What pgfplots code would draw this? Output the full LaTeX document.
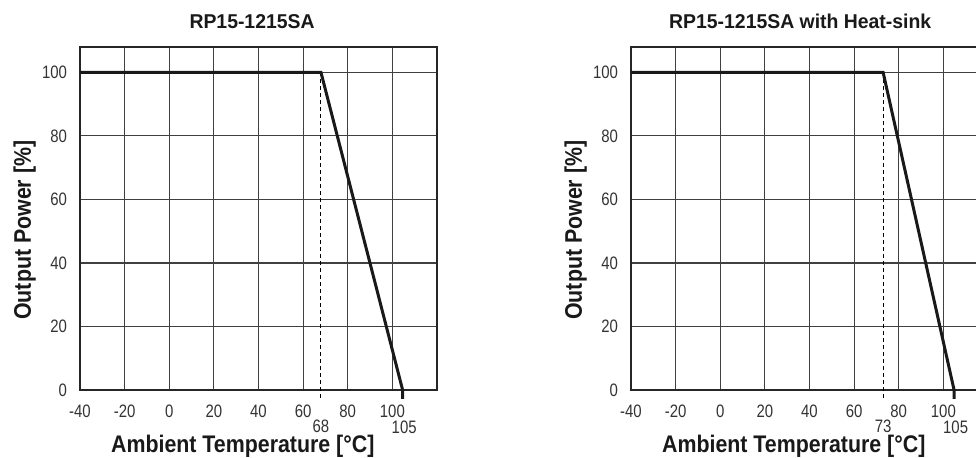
\documentclass[border=0pt]{standalone}
\usepackage{pgfplots}
\pgfplotsset{compat=1.18}
\usepackage{fontspec}
\setmainfont{Liberation Sans}
\newfontfamily\tickfont{Liberation Sans}[FakeStretch=0.83]
\newfontfamily\labfont{Liberation Sans}[FakeStretch=0.89]
\newfontfamily\titfont{Liberation Sans}[FakeStretch=0.97]

\tikzset{
  curve/.style={black!90, line width=1.5pt, line join=miter},
  dropline/.style={black, line width=0.5pt, dash pattern=on 2pt off 1.5pt},
  note/.style={font=\tickfont\fontsize{9}{10}\selectfont, text=black!80, anchor=base},
}
\pgfplotsset{
  every axis title shift=0pt,
  derate/.style={
    scale only axis, width=178.5pt, height=171.5pt,
    xmin=-40, xmax=120, ymin=0, ymax=108,
    xtick={-40,-20,0,20,40,60,80,100},
    xticklabels={-40,-20,0,20,40,60,80,100},
    ytick={0,20,40,60,80,100},
    yticklabels={0,20,40,60,80,100},
    grid=major, grid style={black!75, line width=0.55pt},
    major tick length=0pt,
    axis line style={black!85, line width=0.6pt},
    tick label style={font=\tickfont\fontsize{9}{10}\selectfont, text=black!80},
    xticklabel style={anchor=base, yshift=-13.8pt},
    yticklabel style={xshift=-3pt},
    title style={at={(axis description cs:0.482,1)}, anchor=base, yshift=9pt,
      font=\titfont\bfseries\fontsize{10}{12}\selectfont, text=black!90},
    xlabel={Ambient Temperature [°C]},
    ylabel={Output Power [\%]},
    label style={font=\labfont\bfseries\fontsize{12}{14}\selectfont, text=black!90},
    xlabel style={at={(axis description cs:0.456,-0.1837)}, anchor=base},
    ylabel style={at={(axis description cs:-0.1373,0.466)}, anchor=base},
    clip=false,
  },
}

\begin{document}
\begin{tikzpicture}
\begin{axis}[derate, title={RP15-1215SA}]
  \addplot[dropline] coordinates {(68,100) (68,-3)};
  \addplot[curve] coordinates {(-40,100) (68,100) (104.6,0) (104.6,-2.8)};
  \node[note, yshift=-21.5pt] at (axis cs:68,0) {68};
  \node[note, yshift=-22pt] at (axis cs:105.3,0) {105};
\end{axis}

\begin{axis}[derate, at={(275.5pt,0)}, title={RP15-1215SA with Heat-sink},
  title style={at={(axis description cs:0.474,1)}}]
  \addplot[dropline] coordinates {(73,100) (73,-3)};
  \addplot[curve] coordinates {(-40,100) (73,100) (104.8,0) (104.8,-2.8)};
  \node[note, yshift=-21.5pt] at (axis cs:73,0) {73};
  \node[note, yshift=-22pt] at (axis cs:105.5,0) {105};
\end{axis}

\pgfresetboundingbox
\useasboundingbox (-40pt,-34pt) rectangle (448pt,195pt);
\end{tikzpicture}
\end{document}
